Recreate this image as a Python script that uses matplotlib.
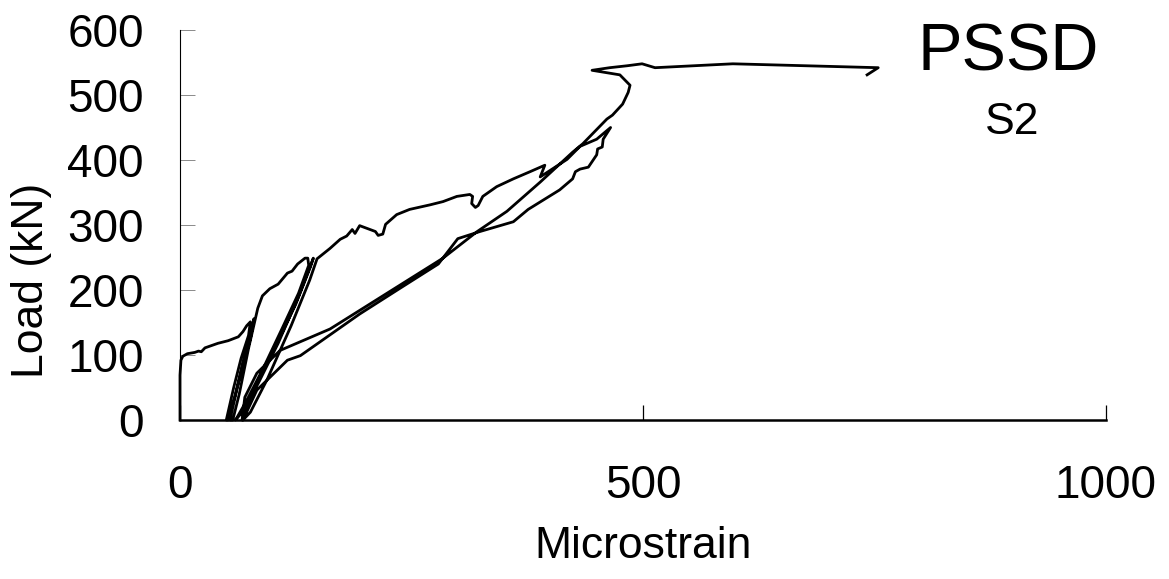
# Load - microstrain curve, PSSD specimen S2
import matplotlib.pyplot as plt

plt.rcParams['font.family'] = ['Liberation Sans', 'DejaVu Sans']

# first loading up to ~150 kN
load1_x = [0, 0, 1, 3, 8, 16, 20, 23, 27, 41, 52, 63, 68, 72, 76]
load1_y = [0, 69, 92, 98, 102, 104, 106, 105, 111, 118, 122, 128, 136, 145, 151]

# cycles at 150 kN
cyc150_x = [74, 66, 58, 50, 52, 60, 70, 80, 76, 68, 61, 54, 57, 64, 74, 82]
cyc150_y = [130, 95, 50, 0, 0, 40, 100, 156, 125, 85, 45, 0, 0, 40, 110, 160]

# loading 150 -> 250 kN
load2_x = [84, 89, 97, 106, 116, 121, 127, 135, 138]
load2_y = [172, 191, 202, 209, 226, 229, 240, 249, 249]

# cycles at 250 kN
cyc250_x = [139, 128, 110, 90, 72, 62, 60, 66, 84, 106, 128, 144, 141, 125, 104, 82, 70, 68,
            76, 94, 120, 140, 148]
cyc250_y = [238, 195, 140, 80, 30, 5, 0, 10, 55, 118, 190, 249, 236, 178, 116, 55, 15, 0,
            12, 62, 145, 215, 248]

# loading 250 -> 350 kN
load3_x = [162, 173, 180, 186, 189, 194, 211, 214, 219, 222, 234, 248, 270, 284, 299, 313,
           316, 315, 319, 322]
load3_y = [264, 278, 283, 293, 287, 299, 290, 284, 286, 301, 316, 324, 331, 336, 344, 347,
           344, 333, 327, 330]

# loading 350 -> 450 kN
load4_x = [327, 342, 360, 378, 394, 389, 405, 418, 432, 450, 465]
load4_y = [344, 359, 371, 382, 392, 374, 389, 401, 421, 432, 450]

# unloading from 450 kN
unload_x = [457, 456, 451, 450, 441, 432, 427, 424, 410, 376, 360, 324, 300, 279, 238, 194,
            130, 116, 83, 68]
unload_y = [432, 420, 417, 408, 389, 386, 382, 371, 354, 324, 305, 290, 279, 240, 203, 163,
            99, 92, 46, 0]

# final reloading to failure
final_x = [67, 70, 83, 108, 162, 284, 321, 353, 389, 424, 435, 461, 467, 478, 484, 486, 475,
           445, 464, 483, 499, 513, 597, 754, 742]
final_y = [0, 35, 72, 107, 140, 249, 290, 321, 366, 412, 425, 463, 469, 486, 504, 515, 531,
           538, 542, 545, 548, 542, 548, 542, 531]

strain = load1_x + cyc150_x + load2_x + cyc250_x + load3_x + load4_x + unload_x + final_x
load = load1_y + cyc150_y + load2_y + cyc250_y + load3_y + load4_y + unload_y + final_y

xticks = [0, 500, 1000]
yticks = [0, 100, 200, 300, 400, 500, 600]

fig = plt.figure(figsize=(11.69, 5.79), dpi=100)
ax = fig.add_axes([180 / 1169, 1 - 420 / 579, 926 / 1169, 390 / 579])

ax.plot(strain, load, color='black', lw=2.0, clip_on=False, solid_joinstyle='round')

ax.set_xlim(0, 1000)
ax.set_ylim(0, 600)
ax.set_xticks(xticks)
ax.set_yticks(yticks)

ax.spines['top'].set_visible(False)
ax.spines['right'].set_visible(False)
ax.spines['left'].set_linewidth(0.8)
ax.spines['bottom'].set_linewidth(1.8)

ax.tick_params(axis='x', direction='in', length=11, width=0.9, labelsize=33, pad=32)
ax.tick_params(axis='y', direction='in', length=11, width=0.6, color='#777777',
               labelsize=33, pad=26)

fig.text(643 / 1169, 1 - 546 / 579, 'Microstrain', fontsize=32, ha='center', va='center')
fig.text(32 / 1169, 1 - 280 / 579, 'Load (kN)', fontsize=32, rotation=90,
         ha='center', va='center')

ax.text(894, 537, 'PSSD', fontsize=48, ha='center', va='baseline')
ax.text(899, 440, 'S2', fontsize=32, ha='center', va='baseline')

fig.savefig('out.png', dpi=100)
